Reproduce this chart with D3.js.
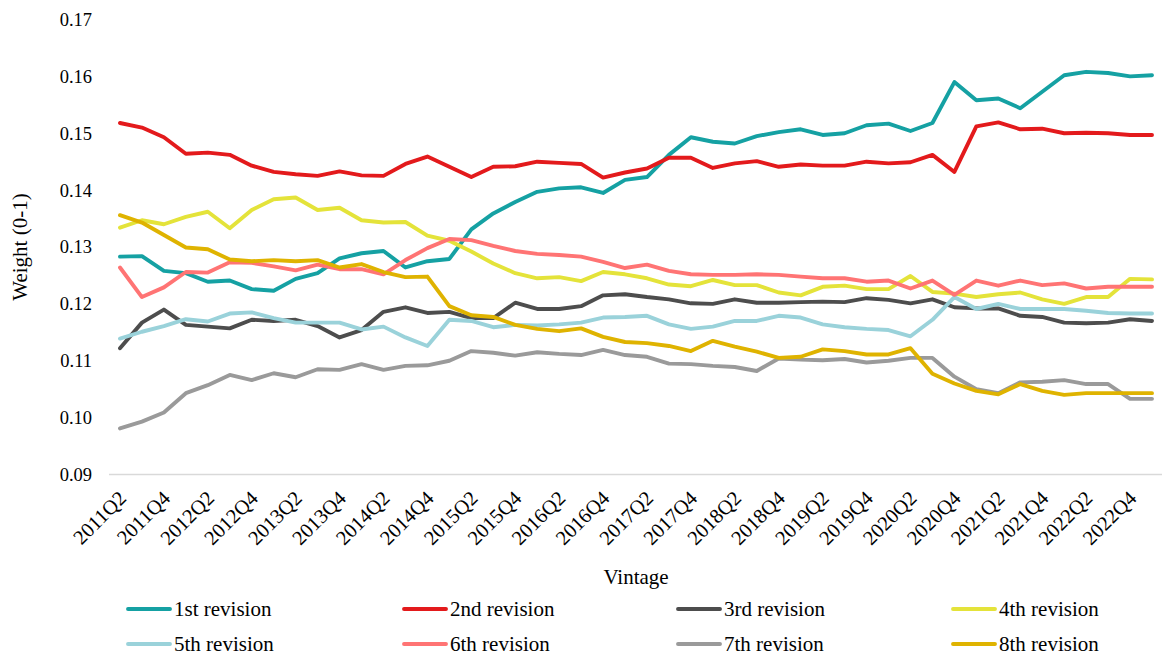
<!DOCTYPE html>
<html>
<head>
<meta charset="utf-8">
<script src="https://cdn.jsdelivr.net/npm/d3@7/dist/d3.min.js"></script>
<style>
  html, body { margin: 0; padding: 0; background: #fff; }
  svg text { font-family: "Liberation Serif", "Times New Roman", serif; fill: #000; }
</style>
</head>
<body>
<svg id="chart" width="1162" height="655"></svg>
<script>
// Quarterly vintages
const vintages = [
  "2011Q2","2011Q3","2011Q4","2012Q1","2012Q2","2012Q3","2012Q4","2013Q1",
  "2013Q2","2013Q3","2013Q4","2014Q1","2014Q2","2014Q3","2014Q4","2015Q1",
  "2015Q2","2015Q3","2015Q4","2016Q1","2016Q2","2016Q3","2016Q4","2017Q1",
  "2017Q2","2017Q3","2017Q4","2018Q1","2018Q2","2018Q3","2018Q4","2019Q1",
  "2019Q2","2019Q3","2019Q4","2020Q1","2020Q2","2020Q3","2020Q4","2021Q1",
  "2021Q2","2021Q3","2021Q4","2022Q1","2022Q2","2022Q3","2022Q4","2023Q1"
];

// Labelled vintages on the category axis
const tickLabels = [
  "2011Q2","2011Q4","2012Q2","2012Q4","2013Q2","2013Q4","2014Q2","2014Q4",
  "2015Q2","2015Q4","2016Q2","2016Q4","2017Q2","2017Q4","2018Q2","2018Q4",
  "2019Q2","2019Q4","2020Q2","2020Q4","2021Q2","2021Q4","2022Q2","2022Q4"
];

const yTicks = [0.09, 0.10, 0.11, 0.12, 0.13, 0.14, 0.15, 0.16, 0.17];

const seriesNames = ["1st revision","2nd revision","3rd revision","4th revision",
                     "5th revision","6th revision","7th revision","8th revision"];
const seriesColors = ["#15A1A3","#E31A1C","#4D4D4D","#E4E33A",
                      "#9AD2DA","#FF7474","#9A9A9A","#DFB300"];

const rev1 = [0.1283,0.1284,0.1258,0.1254,0.1239,0.1241,0.1226,0.1223,0.1244,0.1254,0.1280,0.1289,
              0.1293,0.1264,0.1275,0.1279,0.1331,0.1359,0.1379,0.1397,0.1403,0.1405,0.1395,0.1418,
              0.1423,0.1462,0.1493,0.1485,0.1482,0.1495,0.1502,0.1507,0.1497,0.1500,0.1514,0.1517,
              0.1504,0.1518,0.1590,0.1558,0.1561,0.1544,0.1573,0.1602,0.1608,0.1606,0.1600,0.1602];
const rev2 = [0.1518,0.1510,0.1493,0.1464,0.1466,0.1462,0.1443,0.1432,0.1428,0.1425,0.1433,0.1426,
              0.1425,0.1446,0.1459,0.1441,0.1423,0.1441,0.1442,0.1450,0.1448,0.1446,0.1422,0.1431,
              0.1438,0.1457,0.1457,0.1439,0.1447,0.1451,0.1441,0.1445,0.1443,0.1443,0.1450,0.1447,
              0.1449,0.1462,0.1432,0.1512,0.1519,0.1507,0.1508,0.1500,0.1501,0.1500,0.1497,0.1497];
const rev3 = [0.1122,0.1167,0.1190,0.1163,0.1160,0.1157,0.1172,0.1170,0.1172,0.1161,0.1141,0.1154,
              0.1186,0.1194,0.1184,0.1186,0.1175,0.1175,0.1202,0.1191,0.1191,0.1196,0.1215,0.1217,
              0.1212,0.1208,0.1201,0.1200,0.1208,0.1202,0.1202,0.1203,0.1204,0.1203,0.1210,0.1207,
              0.1201,0.1208,0.1194,0.1192,0.1192,0.1179,0.1177,0.1167,0.1166,0.1167,0.1173,0.1170];
const rev4 = [0.1334,0.1347,0.1340,0.1353,0.1362,0.1333,0.1365,0.1384,0.1387,0.1365,0.1369,0.1347,
              0.1343,0.1344,0.1320,0.1311,0.1292,0.1271,0.1254,0.1245,0.1247,0.1240,0.1256,0.1252,
              0.1245,0.1234,0.1231,0.1242,0.1233,0.1233,0.1220,0.1215,0.1230,0.1232,0.1226,0.1226,
              0.1249,0.1221,0.1218,0.1212,0.1217,0.1220,0.1208,0.1200,0.1212,0.1212,0.1244,0.1243];
const rev5 = [0.1139,0.1151,0.1161,0.1173,0.1169,0.1183,0.1185,0.1175,0.1167,0.1167,0.1167,0.1155,
              0.1160,0.1141,0.1126,0.1172,0.1170,0.1159,0.1163,0.1162,0.1164,0.1167,0.1176,0.1177,
              0.1179,0.1164,0.1156,0.1160,0.1170,0.1170,0.1179,0.1176,0.1164,0.1159,0.1156,0.1154,
              0.1143,0.1172,0.1212,0.1191,0.1200,0.1191,0.1191,0.1191,0.1188,0.1184,0.1183,0.1183];
const rev6 = [0.1264,0.1212,0.1229,0.1256,0.1255,0.1273,0.1272,0.1266,0.1259,0.1269,0.1261,0.1261,
              0.1252,0.1277,0.1298,0.1314,0.1312,0.1302,0.1293,0.1288,0.1286,0.1283,0.1274,0.1263,
              0.1269,0.1258,0.1252,0.1251,0.1251,0.1252,0.1251,0.1248,0.1245,0.1245,0.1239,0.1241,
              0.1227,0.1241,0.1216,0.1241,0.1232,0.1241,0.1233,0.1236,0.1227,0.1230,0.1230,0.1230];
const rev7 = [0.0981,0.0993,0.1009,0.1043,0.1057,0.1075,0.1066,0.1078,0.1071,0.1085,0.1084,0.1094,
              0.1084,0.1091,0.1092,0.1100,0.1117,0.1114,0.1109,0.1115,0.1112,0.1110,0.1119,0.1110,
              0.1107,0.1095,0.1094,0.1091,0.1089,0.1082,0.1104,0.1102,0.1101,0.1103,0.1097,0.1100,
              0.1105,0.1105,0.1072,0.1050,0.1043,0.1062,0.1063,0.1066,0.1059,0.1059,0.1033,0.1033];
const rev8 = [0.1356,0.1343,0.1321,0.1299,0.1296,0.1278,0.1275,0.1277,0.1275,0.1277,0.1264,0.1270,
              0.1256,0.1247,0.1248,0.1196,0.1180,0.1177,0.1163,0.1156,0.1152,0.1157,0.1142,0.1133,
              0.1131,0.1126,0.1117,0.1135,0.1125,0.1116,0.1105,0.1107,0.1120,0.1117,0.1111,0.1111,
              0.1122,0.1077,0.1060,0.1047,0.1041,0.1059,0.1047,0.1040,0.1043,0.1043,0.1043,0.1043];

const seriesValues = [rev1, rev2, rev3, rev4, rev5, rev6, rev7, rev8];

// ---- layout ----
const svg = d3.select("#chart");
const plot = { left: 109, right: 1163, top: 19.5, bottom: 474.5 };
const TICK_FONT = 18.5;
const LABEL_FONT = 21;
const SERIF = "'Liberation Serif','Times New Roman',serif";

const x = d3.scalePoint()
  .domain(vintages)
  .range([plot.left, plot.right])
  .padding(0.5);

const y = d3.scaleLinear()
  .domain([0.09, 0.17])
  .range([plot.bottom, plot.top]);

// y axis (labels only)
const yAxis = svg.append("g")
  .attr("transform", `translate(${plot.left},0)`)
  .call(d3.axisLeft(y).tickValues(yTicks).tickFormat(d3.format(".2f")).tickSize(0).tickPadding(17));
yAxis.select(".domain").remove();
yAxis.selectAll("text")
  .style("font-size", TICK_FONT + "px")
  .style("font-family", SERIF)
  .attr("fill", "#000");

// x axis line and rotated labels
const xAxis = svg.append("g")
  .attr("transform", `translate(0,${plot.bottom})`)
  .call(d3.axisBottom(x).tickValues(tickLabels).tickSize(0).tickPadding(0));
xAxis.select(".domain")
  .attr("d", `M${plot.left},0H${plot.right}`)
  .attr("stroke", "#D9D9D9")
  .attr("stroke-width", 1.3);
xAxis.selectAll(".tick text")
  .style("font-size", "20.5px")
  .style("font-family", SERIF)
  .attr("fill", "#000")
  .attr("text-anchor", "end")
  .attr("dy", "0.35em")
  .attr("transform", "translate(2,20) rotate(-45)");

// axis titles
svg.append("text")
  .attr("transform", "translate(20,247) rotate(-90)")
  .attr("text-anchor", "middle")
  .attr("dy", "0.35em")
  .style("font-size", LABEL_FONT + "px")
  .text("Weight (0-1)");

svg.append("text")
  .attr("x", 636)
  .attr("y", 577)
  .attr("text-anchor", "middle")
  .attr("dy", "0.35em")
  .style("font-size", LABEL_FONT + "px")
  .text("Vintage");

// series lines
const line = d3.line()
  .x((d, i) => x(vintages[i]))
  .y(d => y(d));

svg.append("g")
  .selectAll("path")
  .data(seriesValues)
  .join("path")
  .attr("d", line)
  .attr("fill", "none")
  .attr("stroke", (d, i) => seriesColors[i])
  .attr("stroke-width", 3.9)
  .attr("stroke-linejoin", "round")
  .attr("stroke-linecap", "round");

// legend: 4 columns x 2 rows
const legendCols = [128, 404, 678, 953];
const legendRows = [609, 644];
const legend = svg.append("g")
  .selectAll("g")
  .data(seriesNames)
  .join("g")
  .attr("transform", (d, i) => `translate(${legendCols[i % 4]},${legendRows[Math.floor(i / 4)]})`);

legend.append("line")
  .attr("x1", 0).attr("x2", 42)
  .attr("y1", 0).attr("y2", 0)
  .attr("stroke", (d, i) => seriesColors[i])
  .attr("stroke-width", 3.9)
  .attr("stroke-linecap", "round");

legend.append("text")
  .attr("x", 46)
  .attr("dy", "0.35em")
  .style("font-size", LABEL_FONT + "px")
  .text(d => d);
</script>
</body>
</html>
